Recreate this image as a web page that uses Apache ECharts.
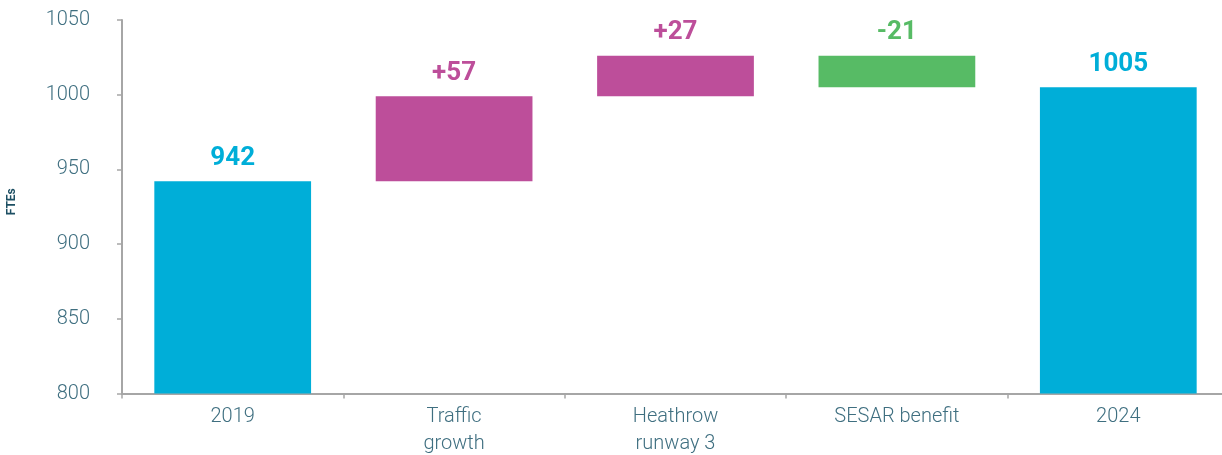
<!DOCTYPE html>
<html>
<head>
<meta charset="utf-8">
<script src="https://cdn.jsdelivr.net/npm/echarts@6/dist/echarts.min.js"></script>
<style>
  html, body { margin: 0; padding: 0; background: #ffffff; }
  #chart { width: 1222px; height: 455px; }
</style>
</head>
<body>
<div id="chart"></div>
<script>
// FTE bridge: 2019 baseline, drivers of change, 2024 outcome
const categories = ['2019', 'Traffic\ngrowth', 'Heathrow\nrunway 3', 'SESAR benefit', '2024'];
const startValue = 942;
const changes = [57, 27, -21];
const endValue = 1005;
const yTicks = { min: 800, max: 1050, interval: 50 };

const COLOR_TOTAL = '#00AED8';
const COLOR_UP = '#BD4E9A';
const COLOR_DOWN = '#57BB65';
const TEXT = '#3F6F80';

// invisible base + visible segment for every column
const baseData = [];
const visData = [];
let running = startValue;
baseData.push(0);
visData.push({ value: startValue, label: String(startValue), color: COLOR_TOTAL });
changes.forEach(function (d) {
  const lo = d >= 0 ? running : running + d;
  baseData.push(lo);
  visData.push({ value: Math.abs(d), label: (d >= 0 ? '+' : '-') + Math.abs(d), color: d >= 0 ? COLOR_UP : COLOR_DOWN });
  running += d;
});
baseData.push(0);
visData.push({ value: endValue, label: String(endValue), color: COLOR_TOTAL });

const chart = echarts.init(document.getElementById('chart'), null, { renderer: 'canvas' });
chart.setOption({
  animation: false,
  textStyle: { fontFamily: 'Roboto' },
  grid: { left: 122, top: 20, width: 1107, height: 373.5, containLabel: false, outerBoundsMode: 'none' },
  xAxis: {
    type: 'category',
    data: categories,
    axisLine: { lineStyle: { color: '#A6A6A6', width: 2 } },
    axisTick: { show: true, length: 5, lineStyle: { color: '#A6A6A6', width: 1.5 } },
    axisLabel: { color: TEXT, fontSize: 20, fontWeight: 300, lineHeight: 27, margin: 10, interval: 0, fontFamily: 'Roboto' }
  },
  yAxis: {
    type: 'value',
    min: yTicks.min,
    max: yTicks.max,
    interval: yTicks.interval,
    name: 'FTEs',
    nameLocation: 'middle',
    nameGap: 104,
    nameTextStyle: { color: '#1D4F63', fontSize: 12, fontWeight: 'bold', fontFamily: 'Roboto', padding: [0, 0, 0, 10] },
    axisLine: { show: true, lineStyle: { color: '#A6A6A6', width: 2 } },
    axisTick: { show: true, length: 5, lineStyle: { color: '#A6A6A6', width: 1.5 } },
    splitLine: { show: false },
    axisLabel: {
      color: TEXT, fontSize: 20, fontWeight: 300, margin: 32, fontFamily: 'Roboto',
      formatter: function (v) { return String(v); }
    }
  },
  series: [
    {
      type: 'bar',
      stack: 'bridge',
      data: baseData,
      itemStyle: { color: 'transparent' },
      emphasis: { disabled: true },
      barCategoryGap: '29.2%',
      silent: true
    },
    {
      type: 'bar',
      stack: 'bridge',
      barCategoryGap: '29.2%',
      data: visData.map(function (d) {
        return {
          value: d.value,
          itemStyle: { color: d.color },
          label: {
            show: true,
            position: 'top',
            distance: 10,
            formatter: d.label,
            color: d.color,
            fontSize: 26,
            fontWeight: 'bold',
            fontFamily: 'Roboto'
          }
        };
      })
    }
  ]
});
</script>
</body>
</html>
